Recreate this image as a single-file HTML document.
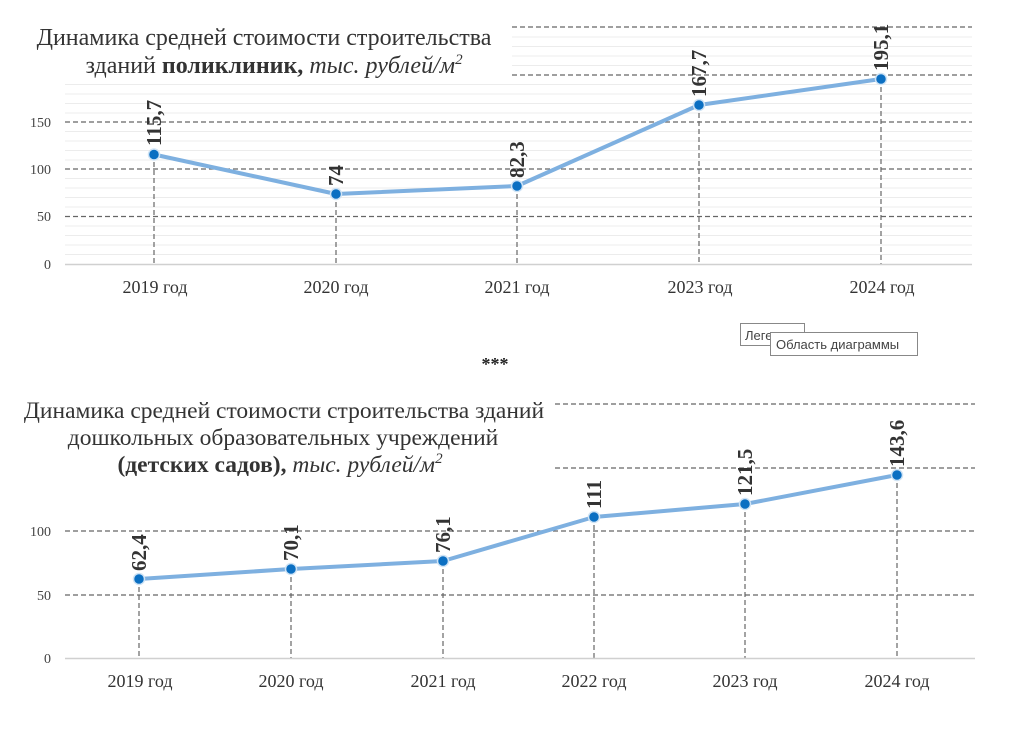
<!DOCTYPE html>
<html><head><meta charset="utf-8"><style>
body{margin:0;background:#fff;}
svg{display:block;}
.t{font-family:"Liberation Serif",serif;}
</style></head><body>
<svg width="1024" height="739" viewBox="0 0 1024 739" xmlns="http://www.w3.org/2000/svg">
<rect width="1024" height="739" fill="#fff"/>
<g stroke="#ececec" stroke-width="1">
<path d="M65 254.5H972M65 245H972M65 235.5H972M65 226H972M65 207H972M65 197.5H972M65 188H972M65 178.5H972M65 160H972M65 150.5H972M65 141H972M65 131.5H972M65 113H972M65 103.5H972M65 94H972M65 84.5H972"/>
<path d="M512 65.5H972M512 56H972M512 46.5H972M512 37H972"/>
</g>
<g stroke="#666" stroke-width="1.2" stroke-dasharray="5,3" fill="none">
<path d="M65 216.5H972M65 169H972M65 122H972M512 75H972M512 27H972"/>
<path d="M154 154V264M336 194V264M517 186V264M699 105V264M881 79V264"/>
</g>
<path d="M65 264.5H972" stroke="#d0d0d0" stroke-width="1.5"/>
<polyline points="154,154.5 336,194 517,186 699,105 881,79" fill="none" stroke="#7eb0e0" stroke-width="4" stroke-linejoin="round"/>
<g fill="#0b6fc2" stroke="#cfe3f5" stroke-width="1.5">
<circle cx="154" cy="154.5" r="5.5"/><circle cx="336" cy="194" r="5.5"/><circle cx="517" cy="186" r="5.5"/><circle cx="699" cy="105" r="5.5"/><circle cx="881" cy="79" r="5.5"/>
</g>
<g class="t" font-size="21" font-weight="bold" fill="#333">
<text transform="translate(161,146) rotate(-90)">115,7</text>
<text transform="translate(343,186) rotate(-90)">74</text>
<text transform="translate(524,178) rotate(-90)">82,3</text>
<text transform="translate(706,97) rotate(-90)">167,7</text>
<text transform="translate(888,71) rotate(-90)">195,1</text>
</g>
<g class="t" font-size="14" fill="#444" text-anchor="end">
<text x="51" y="127">150</text><text x="51" y="174">100</text><text x="51" y="221">50</text><text x="51" y="269">0</text>
</g>
<g class="t" font-size="18" fill="#333" text-anchor="middle">
<text x="155" y="293">2019 год</text><text x="336" y="293">2020 год</text><text x="517" y="293">2021 год</text><text x="700" y="293">2023 год</text><text x="882" y="293">2024 год</text>
</g>
<g class="t" font-size="24" fill="#333" text-anchor="middle">
<text x="264" y="45">Динамика средней стоимости строительства</text>
<text x="274" y="73">зданий <tspan font-weight="bold">поликлиник,</tspan> <tspan font-style="italic">тыс. рублей/м</tspan><tspan font-style="italic" font-size="15" dy="-9">2</tspan></text>
</g>
<rect x="740.5" y="323.5" width="64" height="22" fill="#fff" stroke="#888"/>
<text x="745" y="340" font-family="Liberation Sans,sans-serif" font-size="13" fill="#444">Леге</text>
<rect x="770.5" y="332.5" width="147" height="23" fill="#fff" stroke="#888"/>
<text x="776" y="349" font-family="Liberation Sans,sans-serif" font-size="13" fill="#444">Область диаграммы</text>
<text class="t" x="495" y="370" font-size="18" font-weight="bold" text-anchor="middle" fill="#222">***</text>
<g stroke="#666" stroke-width="1.2" stroke-dasharray="5,3" fill="none">
<path d="M65 595H975M65 531H975M555 468H975M555 404H975"/>
<path d="M139 579V658M291 569V658M443 561V658M594 517V658M745 504V658M897 475V658"/>
</g>
<path d="M65 658.5H975" stroke="#d0d0d0" stroke-width="1.5"/>
<polyline points="139,579 291,569 443,561 594,517 745,504 897,475" fill="none" stroke="#7eb0e0" stroke-width="4" stroke-linejoin="round"/>
<g fill="#0b6fc2" stroke="#cfe3f5" stroke-width="1.5">
<circle cx="139" cy="579" r="5.5"/><circle cx="291" cy="569" r="5.5"/><circle cx="443" cy="561" r="5.5"/><circle cx="594" cy="517" r="5.5"/><circle cx="745" cy="504" r="5.5"/><circle cx="897" cy="475" r="5.5"/>
</g>
<g class="t" font-size="21" font-weight="bold" fill="#333">
<text transform="translate(146,571) rotate(-90)">62,4</text>
<text transform="translate(298,561) rotate(-90)">70,1</text>
<text transform="translate(450,553) rotate(-90)">76,1</text>
<text transform="translate(601,509) rotate(-90)">111</text>
<text transform="translate(752,496) rotate(-90)">121,5</text>
<text transform="translate(904,467) rotate(-90)">143,6</text>
</g>
<g class="t" font-size="14" fill="#444" text-anchor="end">
<text x="51" y="536">100</text><text x="51" y="600">50</text><text x="51" y="663">0</text>
</g>
<g class="t" font-size="18" fill="#333" text-anchor="middle">
<text x="140" y="687">2019 год</text><text x="291" y="687">2020 год</text><text x="443" y="687">2021 год</text><text x="594" y="687">2022 год</text><text x="745" y="687">2023 год</text><text x="897" y="687">2024 год</text>
</g>
<g class="t" font-size="23.5" fill="#333" text-anchor="middle">
<text x="284" y="418">Динамика средней стоимости строительства зданий</text>
<text x="283" y="445">дошкольных образовательных учреждений</text>
<text x="280" y="472"><tspan font-weight="bold">(детских садов),</tspan> <tspan font-style="italic">тыс. рублей/м</tspan><tspan font-style="italic" font-size="15" dy="-9">2</tspan></text>
</g>
</svg>
</body></html>
